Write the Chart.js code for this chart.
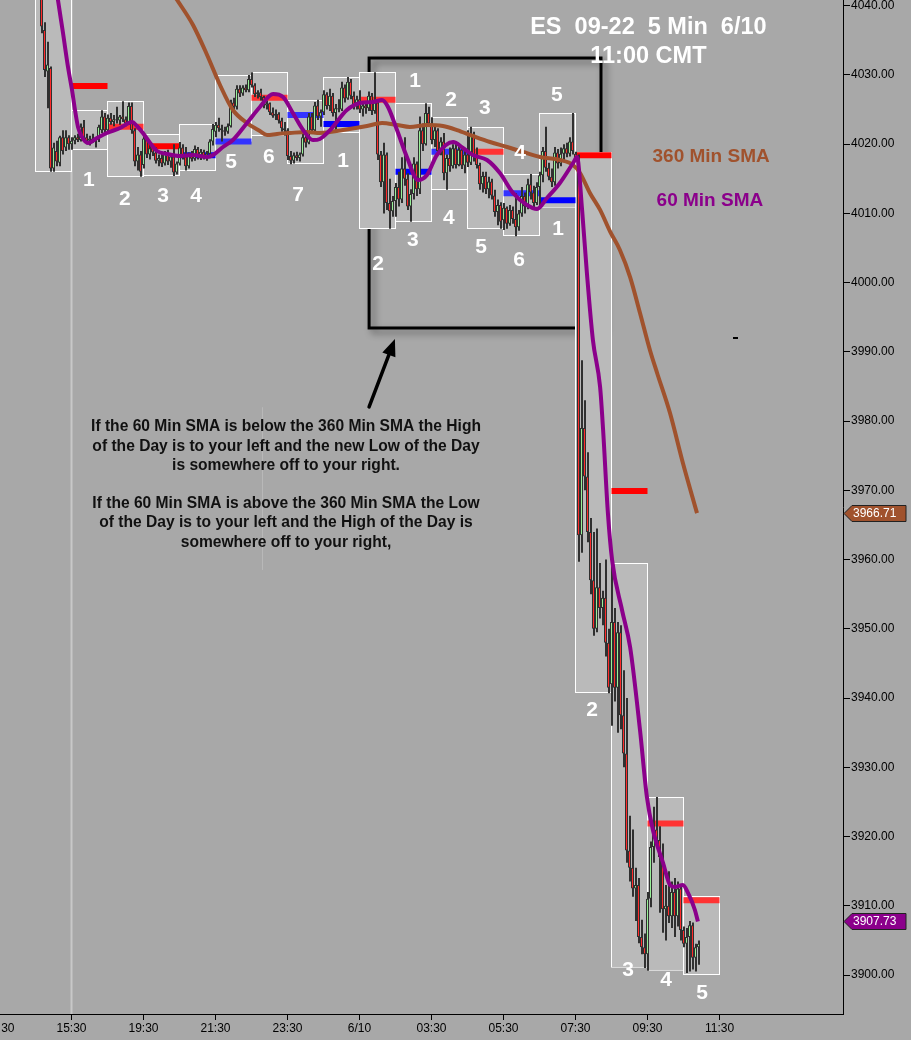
<!DOCTYPE html>
<html><head><meta charset="utf-8">
<script src="https://cdn.jsdelivr.net/npm/chart.js@4.4.1/dist/chart.umd.min.js"></script>
<style>html,body{margin:0;padding:0;background:#A8A8A8;overflow:hidden}canvas{display:block}</style>
</head><body>
<canvas id="c" width="911" height="1040" style="width:911px;height:1040px"></canvas>
<script>
// ---------- DATA ----------
const FIRST_BAR = 14;          // index of first 5-min bar in the window
const BARS_PER_BOX = 12;       // one box = one hour
const xTickLabels = ['13:30','15:30','19:30','21:30','23:30','6/10','03:30','05:30','07:30','09:30','11:30'];
const xTickStep = 24;
const yTickValues = [3900,3910,3920,3930,3940,3950,3960,3970,3980,3990,4000,4010,4020,4030,4040];

const opens = [
4041.5,4036.5,4030.5,4031.0,4016.5,4019.0,4017.3,4021.0,4019.5,4021.0,
4020.0,4020.5,4021.0,4020.6,4022.5,4021.0,4020.5,4020.8,4020.4,4020.6,
4022.0,4024.0,4022.0,4023.8,4023.2,4023.6,4023.4,4024.0,4023.6,4023.0,
4025.5,4022.0,4017.5,4018.5,4017.0,4020.8,4018.5,4019.4,4018.8,4017.6,
4018.0,4017.2,4018.6,4017.5,4018.2,4015.9,4017.2,4019.5,4018.2,4016.8,
4018.3,4017.9,4019.3,4018.3,4018.9,4018.1,4018.6,4020.4,4021.8,4022.8,
4022.3,4022.0,4021.8,4022.6,4026.0,4025.4,4028.0,4027.3,4028.2,4027.8,
4029.4,4028.5,4027.2,4027.5,4026.8,4025.6,4025.9,4024.6,4024.1,4024.4,
4023.4,4022.3,4022.0,4018.3,4017.6,4018.4,4018.0,4018.5,4021.0,4020.2,
4024.0,4022.0,4025.6,4024.0,4024.6,4027.2,4025.5,4027.0,4024.5,4025.2,
4025.0,4028.2,4026.6,4029.0,4027.0,4025.6,4026.5,4025.0,4025.6,4025.2,
4027.0,4024.8,4026.0,4018.5,4014.5,4018.5,4011.5,4010.3,4011.8,4013.8,
4012.0,4016.5,4015.0,4011.0,4012.8,4017.2,4013.5,4022.0,4020.0,4024.5,
4023.0,4020.6,4022.0,4019.0,4020.4,4015.8,4018.0,4016.8,4019.4,4017.0,
4019.2,4016.9,4018.5,4017.3,4021.5,4018.2,4017.0,4014.2,4015.4,4013.5,
4014.6,4012.6,4010.2,4011.2,4009.0,4010.8,4008.5,4010.5,4009.2,4008.0,
4010.0,4012.5,4011.0,4014.2,4013.0,4011.5,4013.8,4015.5,4019.0,4016.6,
4015.3,4014.5,4018.8,4017.2,4018.6,4019.4,4018.6,4020.4,4018.6,4018.0,
3963.5,3979.0,3972.0,3964.0,3957.0,3950.0,3956.0,3953.0,3954.5,3948.0,
3942.0,3951.0,3941.5,3949.5,3937.5,3932.0,3918.0,3915.5,3912.5,3913.0,
3905.5,3904.0,3903.0,3911.0,3918.5,3921.0,3919.5,3917.0,3909.5,3910.0,
3908.5,3912.0,3908.5,3912.5,3906.5,3904.5,3905.5,3907.2,3902.5,3904.0];

const highs = [
4042.0,4037.6,4034.8,4031.2,4020.2,4020.5,4021.2,4022.0,4022.0,4021.3,
4021.0,4021.3,4021.5,4023.0,4023.5,4021.5,4021.2,4021.5,4021.0,4022.8,
4024.9,4024.5,4024.3,4024.5,4024.2,4025.4,4024.2,4026.2,4024.0,4026.0,
4026.0,4022.3,4019.6,4019.0,4021.4,4021.0,4020.0,4019.8,4019.5,4018.5,
4018.6,4019.0,4019.2,4018.6,4020.0,4017.5,4020.3,4020.0,4019.6,4018.8,
4019.0,4019.8,4019.6,4019.3,4019.2,4019.0,4020.7,4022.9,4023.2,4023.8,
4022.8,4022.5,4023.0,4026.4,4026.7,4028.5,4028.5,4028.5,4028.6,4030.0,
4030.4,4028.8,4027.8,4028.0,4027.0,4026.3,4026.0,4025.3,4025.0,4024.6,
4023.8,4023.2,4022.3,4019.0,4018.8,4018.9,4018.8,4021.6,4021.8,4024.5,
4024.5,4026.1,4026.4,4025.0,4027.8,4027.5,4028.0,4027.4,4025.8,4026.5,
4029.0,4028.6,4029.7,4029.4,4027.6,4027.0,4027.8,4026.0,4026.2,4027.6,
4027.4,4030.4,4026.4,4019.0,4020.2,4018.8,4015.0,4012.5,4014.4,4016.0,
4018.1,4021.0,4015.8,4013.5,4018.1,4017.5,4024.0,4023.0,4025.9,4025.4,
4023.9,4022.5,4022.3,4021.0,4021.6,4018.5,4019.5,4020.0,4020.2,4019.8,
4019.5,4019.2,4022.0,4022.5,4021.8,4019.5,4017.3,4016.0,4016.0,4015.3,
4015.0,4013.4,4012.0,4011.6,4011.5,4011.0,4011.2,4011.0,4012.9,4010.5,
4013.8,4013.0,4015.0,4015.7,4014.0,4014.5,4016.0,4019.6,4022.5,4017.3,
4016.5,4019.6,4019.3,4019.5,4020.0,4020.2,4021.0,4024.5,4018.9,4018.5,
3988.8,3983.0,3975.5,3966.0,3964.0,3964.5,3959.5,3955.5,3960.0,3950.0,
3959.5,3953.0,3951.0,3950.5,3944.0,3940.0,3923.0,3921.0,3915.5,3914.0,
3908.0,3906.0,3912.0,3919.3,3924.3,3925.7,3921.5,3919.0,3913.0,3915.0,
3913.5,3914.0,3913.5,3913.0,3907.0,3906.8,3907.8,3907.6,3904.5,3905.0];

const lows = [
4036.0,4029.7,4025.2,4016.0,4016.0,4016.8,4016.8,4018.5,4019.0,4019.2,
4019.2,4020.0,4020.3,4020.4,4020.5,4020.0,4019.8,4020.2,4019.5,4020.3,
4021.6,4021.5,4021.8,4022.8,4022.6,4023.0,4022.8,4023.2,4022.6,4022.8,
4021.5,4016.8,4016.2,4015.3,4016.5,4018.0,4017.8,4018.3,4017.2,4016.8,
4016.7,4016.9,4017.0,4016.6,4015.4,4015.6,4016.9,4017.8,4016.2,4016.5,
4017.5,4017.6,4017.8,4017.7,4017.8,4017.6,4018.3,4019.8,4021.0,4021.8,
4020.4,4021.2,4021.5,4022.4,4024.6,4025.0,4026.8,4027.0,4027.5,4027.5,
4028.2,4026.8,4026.6,4026.3,4025.2,4025.0,4024.2,4023.8,4023.5,4023.0,
4021.8,4021.2,4017.7,4017.1,4017.2,4017.6,4017.5,4018.2,4019.5,4020.0,
4021.5,4021.8,4023.5,4022.5,4024.2,4025.0,4024.8,4024.0,4021.6,4024.6,
4024.8,4026.0,4026.4,4026.5,4025.0,4025.0,4024.5,4024.0,4024.4,4024.8,
4024.2,4024.4,4017.7,4013.8,4010.0,4010.5,4007.8,4009.5,4009.5,4011.0,
4011.5,4014.0,4010.5,4008.8,4012.0,4012.5,4012.8,4019.0,4019.8,4022.5,
4020.0,4019.6,4018.5,4018.4,4014.8,4013.4,4016.0,4016.5,4016.5,4016.8,
4016.4,4015.8,4016.7,4017.0,4017.5,4016.5,4013.4,4013.0,4012.8,4012.2,
4012.0,4009.5,4008.3,4007.8,4007.6,4007.8,4008.2,4008.5,4006.7,4007.5,
4009.5,4010.0,4010.6,4012.0,4010.9,4011.2,4010.8,4014.5,4016.0,4014.8,
4013.8,4014.0,4016.5,4016.8,4017.6,4018.1,4018.2,4018.5,4017.5,3959.7,
3961.0,3970.0,3962.5,3955.0,3949.0,3949.5,3951.5,3950.5,3946.0,3940.7,
3936.0,3939.5,3935.0,3935.5,3930.0,3916.2,3913.5,3911.3,3907.8,3904.6,
3903.0,3901.0,3900.6,3909.8,3916.2,3918.5,3909.0,3906.1,3905.0,3907.5,
3906.8,3905.5,3907.0,3905.0,3904.0,3900.3,3900.5,3900.8,3900.5,3901.5];

const closes = [
4037.0,4030.7,4031.5,4016.5,4019.5,4017.5,4021.0,4019.0,4021.0,4020.0,
4020.5,4021.0,4020.6,4022.5,4021.0,4020.5,4020.8,4020.4,4020.6,4022.5,
4024.0,4022.0,4023.8,4023.2,4023.6,4023.4,4024.0,4023.6,4023.0,4025.5,
4022.0,4017.5,4018.5,4016.0,4020.8,4018.5,4019.4,4018.8,4017.6,4018.0,
4017.2,4018.6,4017.5,4018.2,4015.9,4017.2,4019.5,4018.2,4016.8,4018.3,
4017.9,4019.3,4018.3,4018.9,4018.1,4018.6,4020.4,4022.2,4022.8,4022.3,
4022.0,4021.8,4022.6,4026.0,4025.4,4028.0,4027.3,4028.2,4027.8,4029.4,
4028.5,4027.2,4027.5,4026.8,4025.6,4025.9,4024.6,4024.1,4024.4,4023.4,
4022.3,4022.0,4018.3,4017.6,4018.4,4018.0,4018.5,4021.0,4020.2,4024.0,
4022.0,4025.6,4024.0,4024.6,4027.2,4025.5,4027.0,4024.5,4025.2,4025.0,
4028.2,4026.6,4029.0,4027.0,4025.6,4026.5,4025.0,4025.6,4025.2,4027.0,
4024.8,4026.0,4018.5,4014.5,4018.5,4011.5,4010.3,4011.8,4013.8,4012.0,
4016.5,4015.0,4011.0,4012.8,4017.2,4013.5,4022.0,4020.0,4024.5,4023.0,
4020.6,4022.0,4019.0,4020.4,4015.8,4018.0,4016.8,4019.4,4017.0,4019.2,
4016.9,4018.5,4017.3,4021.5,4018.2,4017.0,4014.2,4015.4,4013.5,4014.6,
4012.6,4010.2,4011.2,4008.8,4010.8,4008.5,4010.5,4009.2,4008.0,4010.0,
4012.5,4011.0,4014.2,4013.0,4011.5,4013.8,4015.5,4019.0,4016.6,4015.3,
4014.5,4018.8,4017.2,4018.6,4019.4,4018.6,4020.4,4019.0,4018.0,3963.5,
3979.0,3972.0,3964.0,3957.0,3950.0,3956.0,3953.0,3954.5,3948.0,3941.5,
3951.0,3941.5,3949.5,3937.5,3932.0,3918.0,3915.5,3912.5,3913.0,3905.5,
3904.0,3903.0,3911.0,3918.5,3921.0,3919.5,3917.0,3909.5,3910.0,3908.5,
3912.0,3908.5,3912.5,3906.5,3904.5,3905.5,3907.2,3902.5,3904.0,3904.5];

// hourly boxes (first bar index, high, low)
const boxStarts = [12,24,36,48,60,72,84,96,108,120,132,144,156,168,180,192,204,216,228];
const boxHighs = [4042.5,4024.93,4026.23,4021.47,4022.91,4029.99,4030.42,4026.38,4029.70,4030.42,4025.94,4023.92,4022.48,4015.69,4024.50,4018.87,3959.51,3925.71,3911.40];
const boxLows  = [4015.98,4019.16,4015.26,4015.40,4016.12,4020.35,4021.18,4017.13,4021.60,4007.75,4008.76,4013.38,4007.75,4006.74,4010.80,3940.73,3901.04,3900.60,3900.00];

// level bars drawn across each following hour (boxes 1..18)
const levelValues = [4028.4,4022.5,4019.7,4018.4,4020.4,4026.7,4024.2,4022.9,4026.4,4016.0,4018.9,4018.9,4012.9,4011.9,4018.4,3969.9,3921.9,3910.8];

// moving averages [bar index, price]
const sma60 = [[18.3,4044.5],[19.5,4040.8],[21.17,4036.05],[22.83,4031.14],[24.17,4027.82],[25.17,4024.93],[26.17,4022.48],[27.5,4021.03],[29.5,4020.17],[32.5,4020.89],[35.8,4021.61],[40.2,4022.33],[44.2,4023.2],[45.8,4022.62],[47.8,4021.61],[50.2,4020.17],[52.5,4019.01],[55.8,4018.58],[60.2,4018.29],[64.5,4018.43],[69.2,4018.15],[71.2,4018.43],[74.5,4019.59],[77.8,4020.6],[82.5,4023.06],[86.8,4025.37],[91.2,4027.24],[94.5,4026.81],[97.8,4024.5],[101.2,4022.04],[104.5,4020.6],[106.8,4020.75],[110.2,4022.04],[115.8,4024.93],[120.2,4025.94],[124.5,4026.09],[127.5,4026.38],[129.5,4025.37],[132.5,4022.04],[135.8,4018.15],[139.5,4014.82],[142.5,4015.55],[145.8,4018.43],[151.2,4020.31],[154.5,4019.45],[157.8,4018.43],[162.5,4017.71],[166.8,4015.83],[171.2,4012.95],[175.8,4011.21],[179.2,4010.64],[182.5,4012.22],[186.8,4014.39],[191.2,4017.28],[192.5,4018.15],[194.2,4010.49],[195.8,4001.39],[197.8,3991.72],[200.2,3984.93],[201.2,3978.72],[202.8,3966.73],[204.2,3959.94],[207.5,3952.72],[210.2,3947.38],[213.5,3935.39],[215.8,3925.71],[217.8,3920.95],[221.2,3916.18],[223.5,3913.0],[225.2,3912.72],[227.8,3913.0],[229.5,3911.85],[231.8,3909.39],[232.8,3907.73]];
const sma360 = [[56.0,4042.9],[59.2,4040.82],[64.5,4037.21],[69.2,4032.88],[73.5,4028.54],[77.8,4024.93],[82.5,4023.06],[86.8,4021.9],[89.2,4021.32],[92.5,4021.47],[96.8,4021.61],[102.5,4021.76],[106.8,4021.61],[114.5,4022.04],[122.5,4022.62],[127.5,4023.06],[132.5,4022.77],[136.8,4022.48],[142.5,4022.77],[147.8,4022.62],[152.5,4022.04],[157.8,4021.18],[163.5,4020.31],[169.2,4019.59],[174.5,4018.87],[180.2,4018.15],[186.8,4017.71],[191.2,4016.99],[193.5,4015.83],[196.8,4012.95],[200.2,4010.5],[203.5,4007.4],[206.8,4004.71],[210.2,4000.81],[213.5,3995.62],[216.8,3990.27],[219.2,3986.95],[223.5,3981.17],[227.8,3973.95],[232.5,3966.71]];

// count labels above / below the boxes
const countTexts = ['1','2','3','4','5','6','7','1','2','3','4','5','6','1','2','3','4','5','1','2','3','4','5'];
const countX = [29.8,41.8,54.5,65.5,77.2,89.8,99.5,114.5,126.2,137.8,149.8,160.5,173.2,186.2,197.5,209.5,222.2,234.2,138.5,150.5,161.8,173.5,185.8];
const countY = [4014.8,4012.1,4012.5,4012.5,4017.4,4018.15,4012.66,4017.6,4002.7,4006.2,4009.3,4005.15,4003.3,4007.75,3938.3,3900.7,3899.3,3897.4,4029.1,4026.4,4025.2,4018.7,4027.0];

const noteLines = ['If the 60 Min SMA is below the 360 Min SMA the High','of the Day is to your left and the new Low of the Day','is somewhere off to your right.','','If the 60 Min SMA is above the 360 Min SMA the Low','of the Day is to your left and the High of the Day is','somewhere off to your right,'];

// ---------- STYLE ----------
const BG = '#A8A8A8';
const FONT = '"Liberation Sans", Arial, sans-serif';
const RED = '#FF2B2B', GREEN = '#98F098', DARK = '#303030';
const BROWN = '#A0522D', PURPLE = '#8B008B';
const levelColors = ['#FF0000','#FF3333','#FF0000','#0000FF','#3333FF','#FF3333','#3333FF','#0000FF','#FF3333','#0000FF','#3333FF','#FF3333','#3333FF','#0000FF','#FF0000','#FF0000','#FF3333','#FF3333'];
// annotation anchors (data coordinates)
const ANN = {
  session: 24, faint: {x:87.5, y0:3982.0, y1:3958.5},
  rect: {x0:123.2, x1:200.5, y0:4032.44, y1:3993.45},
  arrow: {x0:123.2, y0:3982.04, x1:131.8, y1:3991.86},
  note: {x:95.5, y:3979.15},
  title: {x:216.3, y1:4036.78, y2:4032.6},
  lab360: {x:237.2, y:4018.15}, lab60: {x:236.8, y:4011.79},
  dash: {x:245.2, y:3992.0}
};

// ---------- BUILD ----------
const barIdx = opens.map((_, k) => FIRST_BAR + k);
const wickData = barIdx.map((x, k) => ({x, y: [lows[k], highs[k]]}));
const bodyData = barIdx.map((x, k) => ({x, y: [opens[k], closes[k]]}));
const bodyColors = closes.map((c, k) => c >= opens[k] ? GREEN : RED);
const boxData = boxStarts.map((s, k) => ({x: s + BARS_PER_BOX / 2, y: [boxLows[k], boxHighs[k]]}));
const levelData = [];
levelValues.forEach((v, k) => {
  const s = boxStarts[k + 1];
  levelData.push({x: s, y: v}, {x: s + BARS_PER_BOX, y: v}, {x: s + BARS_PER_BOX, y: null});
});

const overlay = {
  id: 'overlay',
  beforeDraw(chart) {
    const c = chart.ctx;
    c.save(); c.fillStyle = BG; c.fillRect(0, 0, chart.width, chart.height); c.restore();
  },
  beforeDatasetsDraw(chart) {
    const c = chart.ctx, X = v => chart.scales.x.getPixelForValue(v), Y = v => chart.scales.y.getPixelForValue(v);
    const a = chart.chartArea;
    c.save();
    c.beginPath(); c.rect(a.left, a.top, a.right - a.left, a.bottom - a.top); c.clip();
    c.strokeStyle = '#C8C8C8'; c.lineWidth = 2;
    c.beginPath(); c.moveTo(X(ANN.session), a.top); c.lineTo(X(ANN.session), a.bottom); c.stroke();
    c.strokeStyle = '#B8B8B8'; c.lineWidth = 1;
    const fx = Math.round(X(ANN.faint.x)) + 0.5;
    c.beginPath(); c.moveTo(fx, Y(ANN.faint.y0)); c.lineTo(fx, Y(ANN.faint.y1)); c.stroke();
    const r = ANN.rect;
    c.shadowColor = 'rgba(0,0,0,0.45)'; c.shadowBlur = 7; c.shadowOffsetX = 4; c.shadowOffsetY = 4;
    c.strokeStyle = '#000'; c.lineWidth = 3;
    c.strokeRect(X(r.x0), Y(r.y0), X(r.x1) - X(r.x0), Y(r.y1) - Y(r.y0));
    c.restore();
  },
  afterDatasetsDraw(chart) {
    const c = chart.ctx, X = v => chart.scales.x.getPixelForValue(v), Y = v => chart.scales.y.getPixelForValue(v);
    c.save();
    const ar = ANN.arrow, x0 = X(ar.x0), y0 = Y(ar.y0), x1 = X(ar.x1), y1 = Y(ar.y1);
    const ang = Math.atan2(y1 - y0, x1 - x0), L = 17, W = 7;
    const bx = x1 - L * Math.cos(ang), by = y1 - L * Math.sin(ang);
    c.strokeStyle = '#000'; c.fillStyle = '#000'; c.lineWidth = 3.5; c.lineCap = 'round';
    c.beginPath(); c.moveTo(x0, y0); c.lineTo(bx, by); c.stroke();
    c.beginPath(); c.moveTo(x1, y1);
    c.lineTo(bx + W * Math.sin(ang), by - W * Math.cos(ang));
    c.lineTo(bx - W * Math.sin(ang), by + W * Math.cos(ang)); c.closePath(); c.fill();
    c.fillRect(Math.round(X(ANN.dash.x)) - 2, Math.round(Y(ANN.dash.y)) - 1, 5, 2);
    c.fillStyle = '#111'; c.font = 'bold 15.6px ' + FONT; c.textAlign = 'center'; c.textBaseline = 'middle';
    noteLines.forEach((t, k) => { if (t) c.fillText(t, X(ANN.note.x), Y(ANN.note.y) + k * 19.2); });
    c.fillStyle = '#FFFFFF'; c.font = 'bold 23.5px ' + FONT;
    c.fillText('ES  09-22  5 Min  6/10', X(ANN.title.x), Y(ANN.title.y1));
    c.fillText('11:00 CMT', X(ANN.title.x), Y(ANN.title.y2));
    c.font = 'bold 19px ' + FONT;
    c.fillStyle = BROWN; c.fillText('360 Min SMA', X(ANN.lab360.x), Y(ANN.lab360.y));
    c.fillStyle = PURPLE; c.fillText('60 Min SMA', X(ANN.lab60.x), Y(ANN.lab60.y));
    c.fillStyle = '#FFFFFF'; c.font = 'bold 21px ' + FONT;
    countTexts.forEach((t, k) => c.fillText(t, X(countX[k]), Y(countY[k])));
    c.restore();
  },
  afterDraw(chart) {
    const c = chart.ctx, Y = v => chart.scales.y.getPixelForValue(v);
    const x0 = chart.chartArea.right + 1;
    const tag = (v, col) => {
      const y = Math.round(Y(v)) + 0.5;
      c.beginPath(); c.moveTo(x0, y); c.lineTo(x0 + 8, y - 8); c.lineTo(x0 + 62, y - 8);
      c.lineTo(x0 + 62, y + 8); c.lineTo(x0 + 8, y + 8); c.closePath();
      c.fillStyle = col; c.fill(); c.strokeStyle = '#222'; c.lineWidth = 1; c.stroke();
      c.fillStyle = '#FFF'; c.font = '12px ' + FONT; c.textAlign = 'left'; c.textBaseline = 'middle';
      c.fillText(v.toFixed(2), x0 + 9, y + 0.5);
    };
    c.save();
    tag(sma360[sma360.length - 1][1], BROWN);
    tag(sma60[sma60.length - 1][1], PURPLE);
    c.restore();
  }
};

Chart.defaults.font.family = FONT;
new Chart(document.getElementById('c'), {
  type: 'bar',
  data: {
    datasets: [
      {type: 'line', data: sma60.map(p => ({x: p[0], y: p[1]})), borderColor: PURPLE, borderWidth: 4, pointRadius: 0, cubicInterpolationMode: 'monotone', order: 1},
      {type: 'line', data: sma360.map(p => ({x: p[0], y: p[1]})), borderColor: BROWN, borderWidth: 4, pointRadius: 0, cubicInterpolationMode: 'monotone', order: 2},
      {type: 'bar', data: bodyData, backgroundColor: bodyColors, borderColor: DARK, borderWidth: 1, borderSkipped: false, barThickness: 3, grouped: false, inflateAmount: 0, order: 3},
      {type: 'bar', data: wickData, xAxisID: 'xw', backgroundColor: DARK, borderWidth: 0, barThickness: 2, grouped: false, inflateAmount: 0, order: 4},
      {type: 'line', data: levelData, spanGaps: false, borderWidth: 6, borderCapStyle: 'butt', pointRadius: 0,
        segment: {borderColor: ctx => levelColors[Math.floor(ctx.p0DataIndex / 3)]}, order: 5},
      {type: 'bar', data: boxData, backgroundColor: '#BABABA', borderColor: '#FFFFFF', borderWidth: 1, borderSkipped: false, barThickness: 37, grouped: false, inflateAmount: 0, order: 6}
    ]
  },
  options: {
    responsive: false, animation: false, events: [],
    layout: {padding: 0},
    plugins: {legend: {display: false}, tooltip: {enabled: false}},
    scales: {
      x: {
        type: 'linear', min: 1/6, max: 281 + 1/6, offset: false,
        afterBuildTicks: s => { s.ticks = xTickLabels.map((_, k) => ({value: k * xTickStep})); },
        afterFit: s => { s.height = 26; s.paddingLeft = 0; s.paddingRight = 0; },
        ticks: {autoSkip: false, maxRotation: 0, padding: 1, color: '#000', font: {size: 12}, callback: (v, i) => xTickLabels[i]},
        grid: {offset: false, drawOnChartArea: false, drawTicks: true, tickLength: 6, color: '#000'},
        border: {display: true, color: '#000', width: 1}
      },
      xw: {
        type: 'linear', display: false, min: 0, max: 281, offset: false
      },
      y: {
        type: 'linear', position: 'right', min: 3894.37, max: 4040.82,
        afterBuildTicks: s => { s.ticks = yTickValues.map(v => ({value: v})); },
        afterFit: s => { s.width = 68; s.paddingTop = 0; s.paddingBottom = 0; },
        ticks: {padding: 1, color: '#000', font: {size: 12}, callback: v => Number(v).toFixed(2)},
        grid: {drawOnChartArea: false, drawTicks: true, tickLength: 7, color: '#000'},
        border: {display: true, color: '#000', width: 1}
      }
    }
  },
  plugins: [overlay]
});
</script>
</body></html>
